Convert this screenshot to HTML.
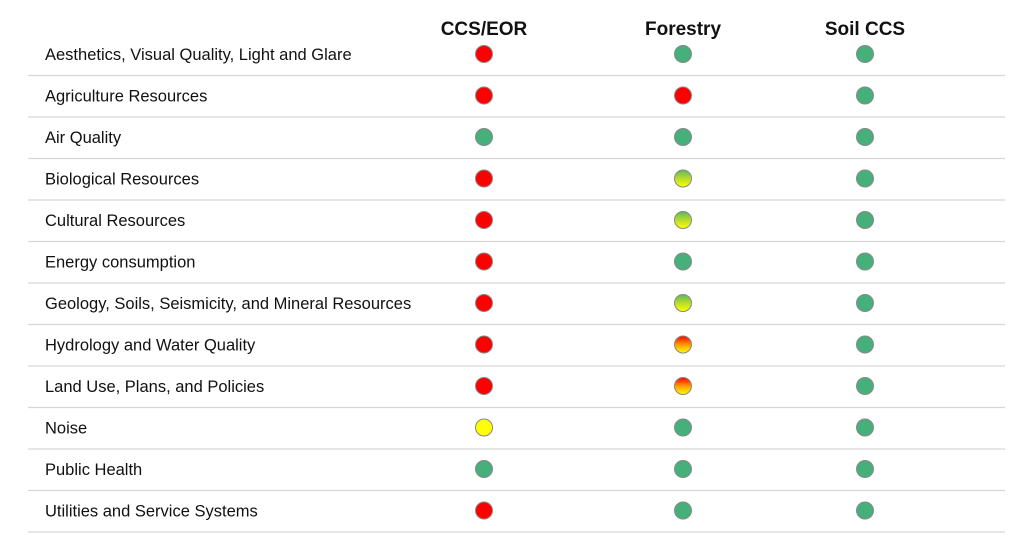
<!DOCTYPE html>
<html><head><meta charset="utf-8"><style>
body{margin:0;background:#fff;width:1024px;height:544px;overflow:hidden;font-family:"Liberation Sans",sans-serif;}
svg{display:block}
</style></head><body>
<svg id="chart" width="1024" height="544">
<defs>
<linearGradient id="gy" x1="0" y1="0" x2="0" y2="1"><stop offset="0" stop-color="#5cb85c"/><stop offset="0.5" stop-color="#b8dc2a"/><stop offset="1" stop-color="#ffff00"/></linearGradient>
<linearGradient id="ry" x1="0" y1="0" x2="0" y2="1"><stop offset="0" stop-color="#ff0000"/><stop offset="0.5" stop-color="#ff9900"/><stop offset="1" stop-color="#ffff00"/></linearGradient>
</defs>
</svg>
<script>
const categories=["Aesthetics, Visual Quality, Light and Glare","Agriculture Resources","Air Quality","Biological Resources","Cultural Resources","Energy consumption","Geology, Soils, Seismicity, and Mineral Resources","Hydrology and Water Quality","Land Use, Plans, and Policies","Noise","Public Health","Utilities and Service Systems"];
const columns=["CCS/EOR","Forestry","Soil CCS"];
const ccsEor=["r","r","g","r","r","r","r","r","r","y","g","r"];
const forestry=["g","r","g","gy","gy","g","gy","ry","ry","g","g","g"];
const soilCcs=["g","g","g","g","g","g","g","g","g","g","g","g"];
const series=[ccsEor,forestry,soilCcs];
const svg=document.getElementById('chart');
const NS="http://www.w3.org/2000/svg";
const colX=[484,683,865];
const rowY=i=>54+i*41.5;
const fills={r:"#ff0000",g:"#46b07a",y:"#ffff00",gy:"url(#gy)",ry:"url(#ry)"};
function mk(t,a){const e=document.createElementNS(NS,t);for(const k in a)e.setAttribute(k,a[k]);svg.appendChild(e);return e;}
columns.forEach((c,j)=>{
 const t=mk('text',{x:colX[j],y:35,'text-anchor':'middle','font-size':19,'font-weight':'bold',fill:'#111'});
 t.textContent=c;
 
 
});
categories.forEach((c,i)=>{
 const y=rowY(i);
 const t=mk('text',{x:45,y:y+6,'font-size':16.5,fill:'#111'});
 t.textContent=c;
 
 
 const l=mk('line',{x1:28,x2:1005,y1:y+21.5,y2:y+21.5,stroke:'#d6d6d6','stroke-width':1.2});
 
 
 series.forEach((s,j)=>{
  const d=mk('circle',{cx:colX[j],cy:y,r:8.5,fill:fills[s[i]],stroke:'#888','stroke-width':1});
  
  
 });
});
</script>
</body></html>
